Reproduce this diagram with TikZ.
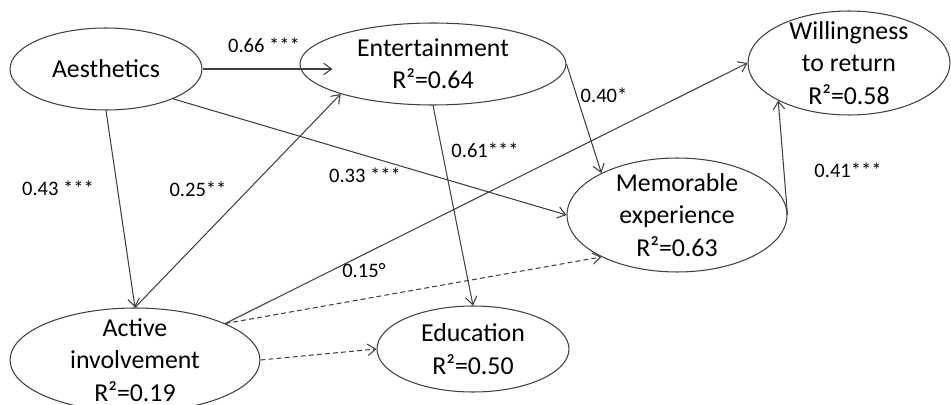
\documentclass[tikz,border=0pt]{standalone}
\usepackage{fontspec}
\setmainfont{Carlito}
\usetikzlibrary{shapes.geometric,arrows.meta}

\begin{document}
\begin{tikzpicture}[x=0.02cm,y=-0.02cm,
		construct/.style={draw=black!75, line width=0.6pt, ellipse, inner xsep=0pt, inner ysep=-0.3cm, align=center, font=\fontsize{14.7}{18.4}\selectfont},
		effect/.style={draw=black!75, line width=0.6pt, -{Straight Barb[length=4.5pt,width=6.5pt]}},
		weak/.style={effect, dash pattern=on 2.8pt off 1.8pt},
		coef/.style={inner sep=0pt, font=\fontsize{11.7}{14}\selectfont}]
			\useasboundingbox (0,0) rectangle (951,405);
			% constructs
			\node[construct, minimum width=3.84cm, minimum height=1.64cm] (aes) at (106,69) {Aesthetics};
			\node[construct, minimum width=5.32cm, minimum height=1.64cm] (ent) at (433,64) {Entertainment\\R²=0.64};
			\node[construct, minimum width=4.04cm, minimum height=2.08cm] (wil) at (849,63) {Willingness\\to return\\R²=0.58};
			\node[construct, minimum width=4.4cm, minimum height=2.28cm] (mem) at (677,215) {Memorable\\experience\\R²=0.63};
			\node[construct, minimum width=5.0cm, minimum height=2.08cm] (act) at (135,360) {Active\\involvement\\R²=0.19};
			\node[construct, minimum width=3.84cm, minimum height=1.72cm] (edu) at (473,349) {Education\\R²=0.50};
			% paths
			\draw[effect, shorten >=-0.66cm] (aes.east) -- (aes.east -| ent.west);
			\draw[effect] (aes.south) -- (act.north);
			\draw[effect] (act.north) -- (ent.198);
			\draw[effect] (aes.-24) -- (mem.west);
			\draw[effect] (ent.south) -- (edu.north);
			\draw[effect] (ent.east) -- (mem.151);
			\draw[effect] (act.22) -- (wil.west);
			\draw[weak] (act.22) -- (mem.209);
			\draw[weak] (act.east) -- (edu.west);
			\draw[effect] (mem.east) -- (wil.208);
			% path coefficients
			\node[coef] (c1) at (264,45) {0.66 ***};
			\node[coef] (c2) at (58,188) {0.43 ***};
			\node[coef] (c3) at (198,189) {0.25**};
			\node[coef] (c4) at (365,175) {0.33 ***};
			\node[coef] (c5) at (485,150) {0.61***};
			\node[coef] (c6) at (604,95) {0.40*};
			\node[coef] (c7) at (364,271) {0.15°};
			\node[coef] (c8) at (848,170) {0.41***};
		\end{tikzpicture}
\end{document}
